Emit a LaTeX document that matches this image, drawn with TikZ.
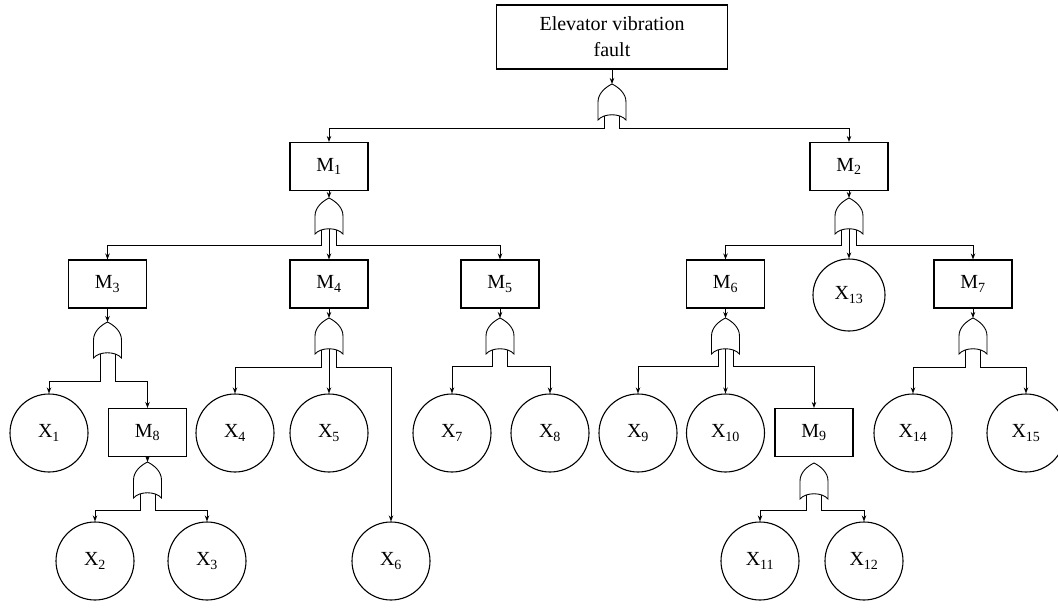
\documentclass[tikz,border=0pt]{standalone}
\usepackage{fontspec}
\setmainfont{Liberation Serif}
\usetikzlibrary{arrows.meta}

\newcommand{\orgate}[4]{
    \draw (#2-14,#3+36) -- (#2-14,#3+18) .. controls (#2-14,#3+9) and (#2-6,#3+3) .. (#2,#3)
        .. controls (#2+6,#3+3) and (#2+14,#3+9) .. (#2+14,#3+18) -- (#2+14,#3+36)
        .. controls (#2+8,#3+29) and (#2-8,#3+29) .. cycle;
    \coordinate (#1) at (#2,#3);
    \coordinate (#1-l) at (#2-7.5,#3+32);
    \coordinate (#1-m) at (#2,#3+31);
    \coordinate (#1-r) at (#2+7.5,#3+32);
    \coordinate (#1-lb) at (#2-7.5,#4);
    \coordinate (#1-rb) at (#2+7.5,#4);
}

\begin{document}
\begin{tikzpicture}[x=1pt, y=-1pt, line width=0.9pt, >={Stealth[length=6pt, width=4.5pt]}]
    \tikzstyle{every node} = [draw, line width=1.1pt, font=\fontsize{20}{26}\selectfont]
    \tikzstyle{event} = [rectangle, minimum width=78, minimum height=48, inner sep=0]
    \tikzstyle{basic} = [circle, minimum size=78, inner sep=0]

    \useasboundingbox (0,0) rectangle (1058,610);

    \node (top) at (612, 37) [rectangle, minimum width=231, minimum height=64, align=center] {Elevator vibration\\fault};

    \node (m1) at (329, 166.5) [event] {M\textsubscript{1}};
    \node (m2) at (849, 166.5) [event] {M\textsubscript{2}};

    \node (m3) at (107.5, 284) [event] {M\textsubscript{3}};
    \node (m4) at (329, 284) [event] {M\textsubscript{4}};
    \node (m5) at (500, 284) [event] {M\textsubscript{5}};
    \node (m6) at (725.5, 284) [event] {M\textsubscript{6}};
    \node (x13) at (849, 295) [basic, minimum size=72] {X\textsubscript{13}};
    \node (m7) at (973, 284) [event] {M\textsubscript{7}};

    \node (x1) at (49, 433) [basic] {X\textsubscript{1}};
    \node (m8) at (147.5, 432.5) [event] {M\textsubscript{8}};
    \node (x4) at (235, 433) [basic] {X\textsubscript{4}};
    \node (x5) at (329, 433) [basic] {X\textsubscript{5}};
    \node (x7) at (452, 433) [basic] {X\textsubscript{7}};
    \node (x8) at (550, 433) [basic] {X\textsubscript{8}};
    \node (x9) at (638, 433) [basic] {X\textsubscript{9}};
    \node (x10) at (725.5, 433) [basic] {X\textsubscript{10}};
    \node (m9) at (814, 432.5) [event] {M\textsubscript{9}};
    \node (x14) at (913, 433) [basic] {X\textsubscript{14}};
    \node (x15) at (1026, 433) [basic] {X\textsubscript{15}};

    \node (x2) at (95, 561) [basic] {X\textsubscript{2}};
    \node (x3) at (207, 561) [basic] {X\textsubscript{3}};
    \node (x6) at (391, 561) [basic] {X\textsubscript{6}};
    \node (x11) at (760, 561) [basic] {X\textsubscript{11}};
    \node (x12) at (864, 561) [basic] {X\textsubscript{12}};

    \orgate{g0}{612}{84}{128}
    \orgate{g1}{329}{198}{245}
    \orgate{g2}{849}{198}{245}
    \orgate{g3}{107.5}{322}{381}
    \orgate{g4}{329}{318}{367}
    \orgate{g5}{500}{318}{366}
    \orgate{g6}{725.5}{318}{366}
    \orgate{g7}{973}{318}{367}
    \orgate{g8}{147.5}{462}{510}
    \orgate{g9}{814}{463}{510}

    \draw [->] (top) -- (g0);
    \draw [->] (g0-l) -- (g0-lb) -| (m1);
    \draw [->] (g0-r) -- (g0-rb) -| (m2);

    \draw [->] (m1) -- (g1);
    \draw [->] (g1-l) -- (g1-lb) -| (m3);
    \draw [->] (g1-m) -- (m4);
    \draw [->] (g1-r) -- (g1-rb) -| (m5);

    \draw [->] (m2) -- (g2);
    \draw [->] (g2-l) -- (g2-lb) -| (m6);
    \draw [->] (g2-m) -- (x13);
    \draw [->] (g2-r) -- (g2-rb) -| (m7);

    \draw [->] (m3) -- (g3);
    \draw [->] (g3-l) -- (g3-lb) -| (x1);
    \draw [->] (g3-r) -- (g3-rb) -| (m8);

    \draw [->] (m4) -- (g4);
    \draw [->] (g4-l) -- (g4-lb) -| (x4);
    \draw [->] (g4-m) -- (x5);
    \draw [->] (g4-r) -- (g4-rb) -| (x6);

    \draw [->] (m5) -- (g5);
    \draw [->] (g5-l) -- (g5-lb) -| (x7);
    \draw [->] (g5-r) -- (g5-rb) -| (x8);

    \draw [->] (m6) -- (g6);
    \draw [->] (g6-l) -- (g6-lb) -| (x9);
    \draw [->] (g6-m) -- (x10);
    \draw [->] (g6-r) -- (g6-rb) -| (m9);

    \draw [->] (m7) -- (g7);
    \draw [->] (g7-l) -- (g7-lb) -| (x14);
    \draw [->] (g7-r) -- (g7-rb) -| (x15);

    \draw [->] (m8) -- (g8);
    \draw [->] (g8-l) -- (g8-lb) -| (x2);
    \draw [->] (g8-r) -- (g8-rb) -| (x3);

    \draw [->] (g9-l) -- (g9-lb) -| (x11);
    \draw [->] (g9-r) -- (g9-rb) -| (x12);
\end{tikzpicture}
\end{document}
